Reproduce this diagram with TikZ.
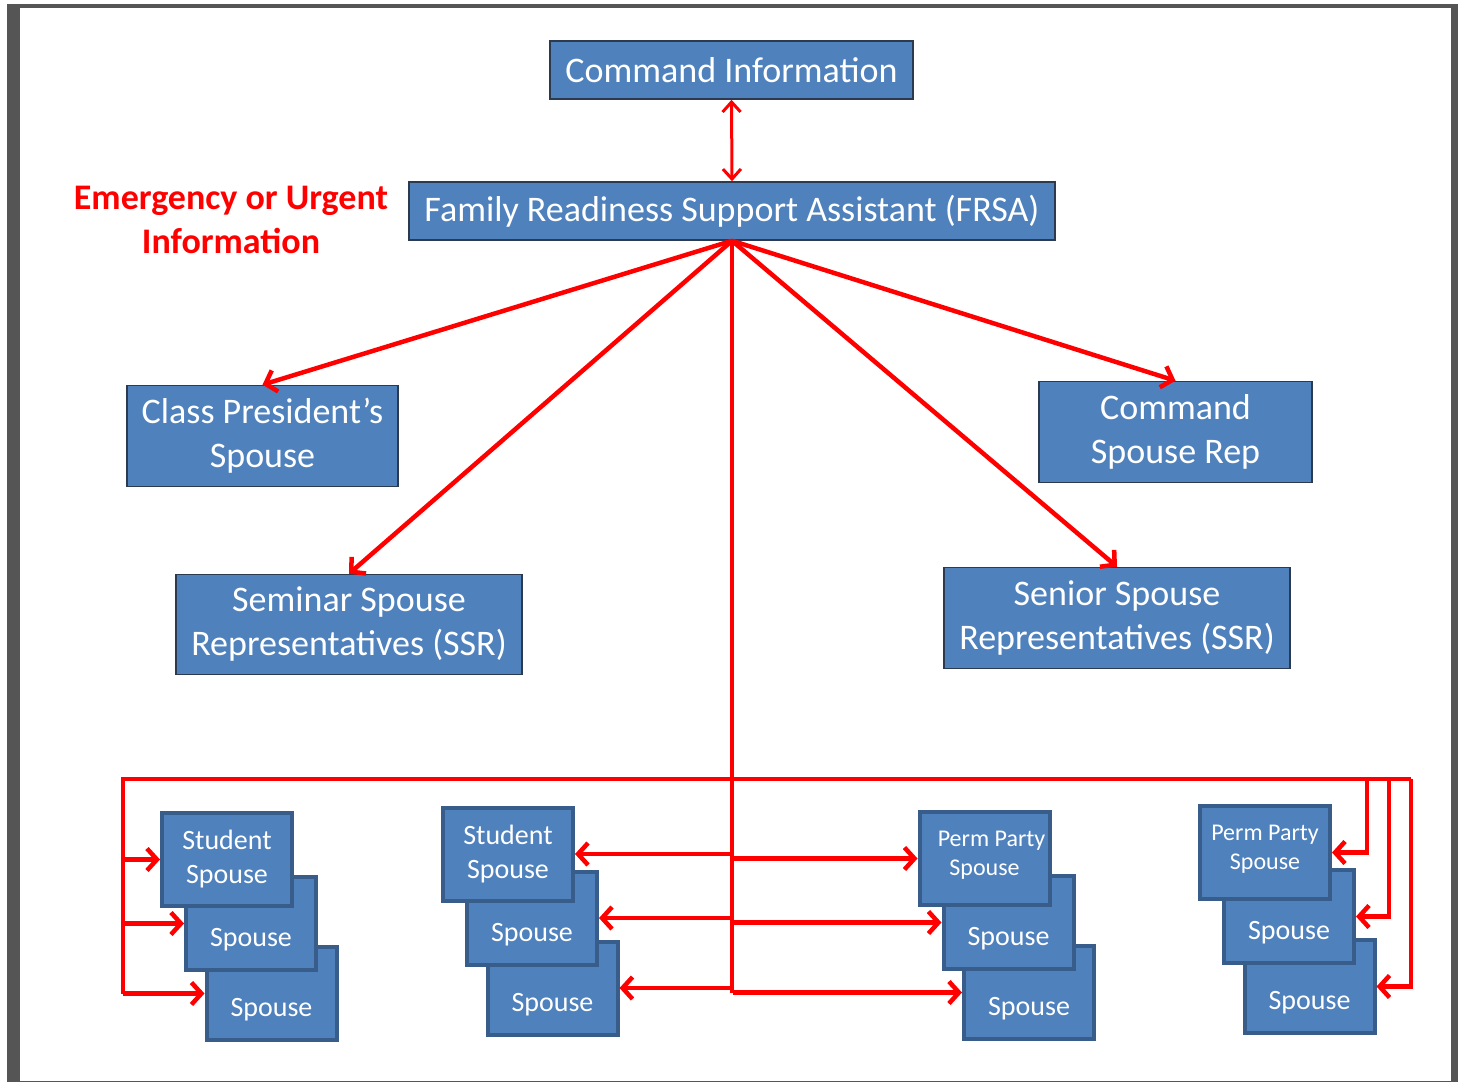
\documentclass[tikz,border=0pt]{standalone}
\usepackage{fontspec}
\setmainfont{Carlito}
\usetikzlibrary{arrows.meta}
\definecolor{boxfill}{HTML}{4F81BD}
\definecolor{boxedge}{HTML}{2B3A4F}
\definecolor{stackedge}{HTML}{385D8A}
\definecolor{framegray}{HTML}{555555}
\tikzset{
  infobox/.style={draw=boxedge, line width=1.5pt, fill=boxfill, text=white, align=center, inner sep=0pt, font=\fontsize{36}{44}\selectfont},
  stackbox/.style={draw=stackedge, line width=4pt, fill=boxfill, text=white, align=center, inner sep=0pt, minimum width=130pt, minimum height=93pt},
  studentbox/.style={font=\fontsize{28}{34}\selectfont},
  permbox/.style={font=\fontsize{24}{29}\selectfont, text depth=10pt},
  lowtext/.style={font=\fontsize{28}{34}\selectfont, text height=48pt, text depth=2pt},
  redline/.style={draw=red, line width=4.5pt},
  redarrow/.style={-{Straight Barb[length=10pt,width=22pt]}}
}
\begin{document}
\begin{tikzpicture}[x=1pt, y=-1pt]
\useasboundingbox (0,0) rectangle (1458,1082);
\fill[framegray] (7,4) rectangle (1458,1082);
\fill[white] (20,8) rectangle (1451,1081);
\node[infobox, minimum width=363pt, minimum height=58pt] (cmd) at (731.5,70) {Command Information};
\node[infobox, minimum width=646pt, minimum height=58pt] (frsa) at (732,211) {Family Readiness Support Assistant (FRSA)};
\node[text=red, align=center, font=\bfseries\fontsize{36}{44}\selectfont] (urgent) at (231,220) {Emergency or Urgent\\Information};
\node[infobox, minimum width=271pt, minimum height=101pt] (cps) at (262.5,436) {Class President's\\Spouse};
\node[infobox, minimum width=273pt, minimum height=101pt] (csr) at (1175.5,432) {Command\\Spouse Rep};
\node[infobox, minimum width=346pt, minimum height=100pt] (semssr) at (349,624.5) {Seminar Spouse\\Representatives (SSR)};
\node[infobox, minimum width=346pt, minimum height=101pt] (senssr) at (1117,618) {Senior Spouse\\Representatives (SSR)};
\foreach \g/\x/\y/\kind/\txt in {A/227/859.5/studentbox/{Student\\Spouse}, B/508/854/studentbox/{Student\\Spouse}, C/984.5/858.5/permbox/{\hspace*{14pt}Perm Party\\Spouse}, D/1265/852.5/permbox/{Perm Party\\Spouse}}{
  \node[stackbox, lowtext] (s\g3) at (\x+44.5,\y+134) {Spouse};
  \node[stackbox, lowtext] (s\g2) at (\x+24,\y+64) {Spouse};
  \node[stackbox, \kind] (s\g1) at (\x,\y) {\txt};
}
\draw[redline, line width=3pt, {Straight Barb[length=10pt,width=18pt]}-{Straight Barb[length=10pt,width=18pt]}] (cmd.south) -- (frsa.north);
\foreach \n in {cps, semssr, csr, senssr}
  \draw[redline, redarrow] (frsa.south) -- (\n.north);
\coordinate (bus) at (733,779);
\coordinate (lbus) at (123,779);
\coordinate (rbus) at (1411,779);
\draw[redline] (frsa.south) -- (frsa.south |- sC3.west);
\draw[redline] (rbus) -- (lbus) -- (lbus |- sA3.west);
\foreach \n in {sA1,sA2,sA3}
  \draw[redline, redarrow] (lbus |- \n.west) -- (\n.west);
\foreach \n in {sB1,sB2,sB3}
  \draw[redline, redarrow] (bus |- \n.east) -- (\n.east);
\foreach \n in {sC1,sC2,sC3}
  \draw[redline, redarrow] (bus |- \n.west) -- (\n.west);
\foreach \n/\x in {sD1/1367, sD2/1389, sD3/1411}
  \draw[redline, redarrow] (\x,779) |- (\n.east);
\end{tikzpicture}
\end{document}
